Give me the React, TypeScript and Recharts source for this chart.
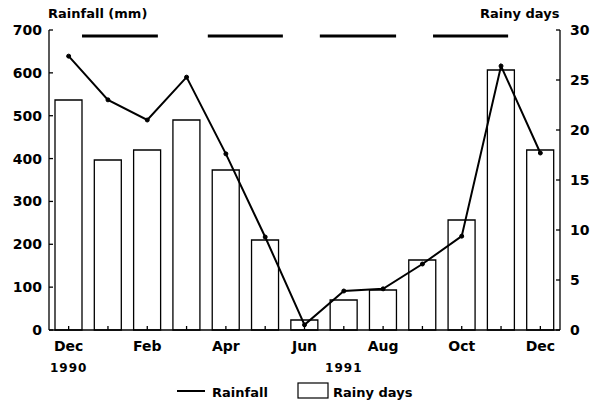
import React from "react";
import {
  ComposedChart,
  Bar,
  Line,
  XAxis,
  YAxis,
  ReferenceLine,
} from "recharts";

const months = ["Dec", "Jan", "Feb", "Mar", "Apr", "May", "Jun", "Jul", "Aug", "Sep", "Oct", "Nov", "Dec"];
const rainfall = [639, 537, 490, 590, 411, 217, 12, 91, 96, 154, 219, 616, 413];
const rainyDays = [23, 17, 18, 21, 16, 9, 1, 3, 4, 7, 11, 26, 18];
const yearLabels: { index: number; label: string }[] = [
  { index: 0, label: "1990" },
  { index: 7, label: "1991" },
];
const rainfallTicks = [0, 100, 200, 300, 400, 500, 600, 700];
const dayTicks = [0, 5, 10, 15, 20, 25, 30];
// top bars, in month units along the axis, at rainfall level
const barLevel = 686;
const dashSegments: [number, number][] = [
  [0.84, 2.77],
  [4.04, 5.95],
  [6.89, 8.83],
  [9.77, 11.68],
];

const data = months.map((m, i) => ({
  month: m,
  pos: i + 0.5,
  rainfall: rainfall[i],
  days: rainyDays[i],
}));

const FONT = "'DejaVu Sans', sans-serif";

const MonthTick = (props: any) => {
  const { x, y, payload } = props;
  const idx = props.index ?? payload?.index ?? 0;
  const year = yearLabels.find((d) => d.index === idx);
  return (
    <g>
      {idx % 2 === 0 && (
        <text x={x} y={y + 21} textAnchor="middle" fontFamily={FONT} fontWeight={700} fontSize={14} fill="#000">
          {payload.value}
        </text>
      )}
      {year && (
        <text x={x} y={y + 42} textAnchor="middle" fontFamily={FONT} fontWeight={700} fontSize={12} letterSpacing={1} fill="#000">
          {year.label}
        </text>
      )}
    </g>
  );
};

const tickStyle = { fontFamily: FONT, fontWeight: 700, fontSize: 14, fill: "#000" };

export default function App() {
  return (
    <div style={{ position: "absolute", left: 0, top: 0, width: 595, height: 401, background: "#fff", fontFamily: FONT }}>
      <div style={{ position: "absolute", left: 48, top: 6, fontSize: 13, fontWeight: 700 }}>Rainfall (mm)</div>
      <div style={{ position: "absolute", left: 480, top: 6, fontSize: 13, fontWeight: 700 }}>Rainy days</div>
      <ComposedChart
        width={595}
        height={401}
        data={data}
        margin={{ top: 30, right: 0, bottom: 0, left: 0 }}
        barSize={27}
      >
        <XAxis
          dataKey="month"
          xAxisId="cat"
          interval={0}
          height={71}
          tickSize={-4}
          tickMargin={4}
          tick={<MonthTick />}
          stroke="#000"
          strokeWidth={1.3}
        />
        <XAxis xAxisId="num" dataKey="pos" type="number" domain={[0, 13]} allowDataOverflow hide />
        <YAxis
          yAxisId="left"
          domain={[0, 700]}
          ticks={rainfallTicks}
          width={49}
          tickSize={-4}
          tickMargin={11}
          tick={tickStyle}
          stroke="#000"
          strokeWidth={1.3}
          interval={0}
        />
        <YAxis
          yAxisId="right"
          orientation="right"
          domain={[0, 30]}
          ticks={dayTicks}
          width={35}
          tickSize={-4}
          tickMargin={14}
          tick={tickStyle}
          stroke="#000"
          strokeWidth={1.3}
          interval={0}
        />
        <Bar
          dataKey="days"
          xAxisId="cat"
          yAxisId="right"
          fill="#fff"
          stroke="#000"
          strokeWidth={1.3}
          isAnimationActive={false}
        />
        <Line
          type="linear"
          dataKey="rainfall"
          xAxisId="cat"
          yAxisId="left"
          stroke="#000"
          strokeWidth={2}
          dot={{ r: 2, fill: "#000", stroke: "#000", strokeWidth: 1 }}
          isAnimationActive={false}
        />
        {dashSegments.map(([a, b], i) => (
          <ReferenceLine
            key={i}
            xAxisId="num"
            yAxisId="left"
            segment={[
              { x: a, y: barLevel },
              { x: b, y: barLevel },
            ]}
            stroke="#000"
            strokeWidth={3}
          />
        ))}
      </ComposedChart>
      <svg style={{ position: "absolute", left: 0, top: 0 }} width={595} height={401} pointerEvents="none">
        <line x1={177} x2={205} y1={391} y2={391} stroke="#000" strokeWidth={2} />
        <text x={212} y={397} fontFamily={FONT} fontWeight={700} fontSize={13} fill="#000">Rainfall</text>
        <rect x={298} y={383} width={30} height={15} fill="#fff" stroke="#000" strokeWidth={1.2} />
        <text x={333} y={397} fontFamily={FONT} fontWeight={700} fontSize={13} fill="#000">Rainy days</text>
      </svg>
    </div>
  );
}
